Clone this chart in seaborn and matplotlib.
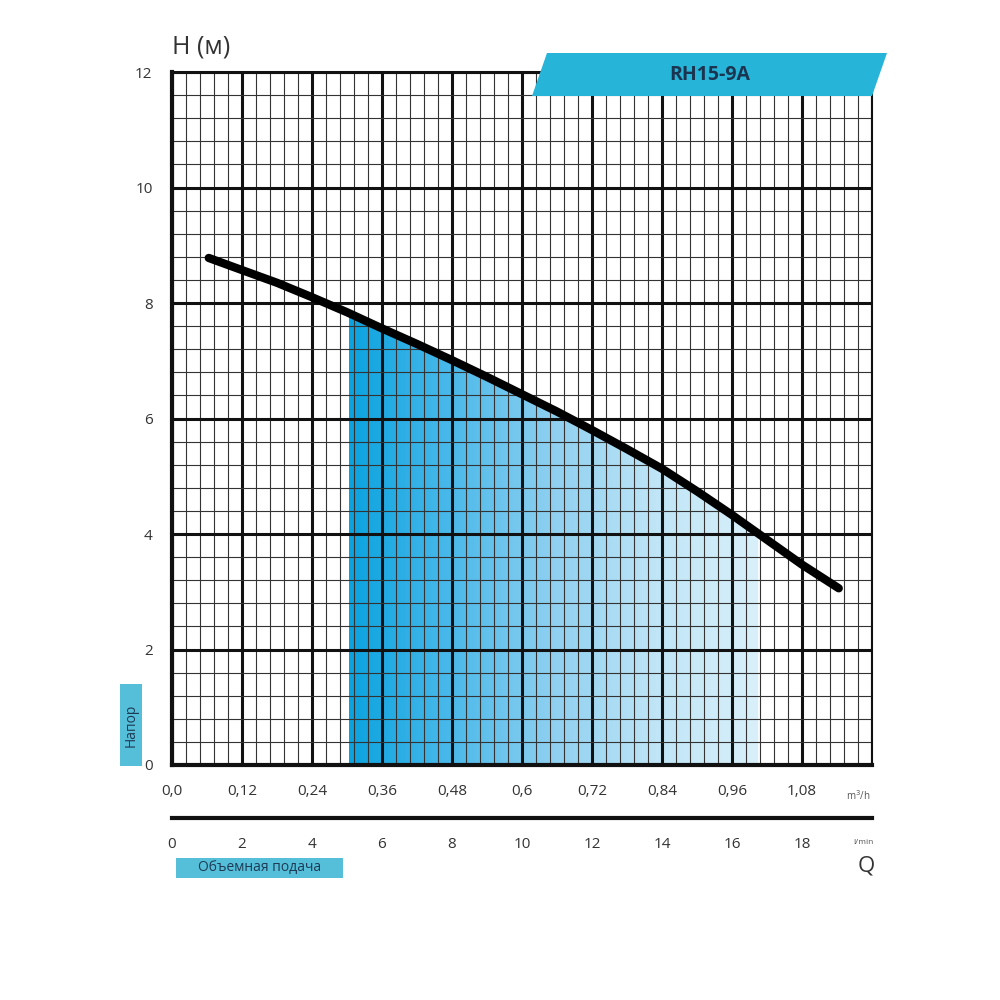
import numpy as np
import pandas as pd
import seaborn as sns
import matplotlib.pyplot as plt
from matplotlib.colors import LinearSegmentedColormap
from matplotlib.patches import Polygon, Rectangle

# ------------------ DATA ------------------
q_lmin = [1.05, 2, 3, 4, 5, 6, 7, 8, 9, 10, 11, 12, 13, 14, 15, 16, 17, 18, 19.05]
head_m = [8.78, 8.57, 8.35, 8.10, 7.84, 7.56, 7.29, 7.01, 6.72, 6.42, 6.12,
          5.80, 5.47, 5.13, 4.74, 4.33, 3.90, 3.47, 3.06]

work_from, work_to = 5.05, 16.75   # working range, l/min

lmin_ticks = [0, 2, 4, 6, 8, 10, 12, 14, 16, 18, 20]
lmin_labels = ['0', '2', '4', '6', '8', '10', '12', '14', '16', '18', '']
m3h_labels = ['0,0', '0,12', '0,24', '0,36', '0,48', '0,6', '0,72', '0,84', '0,96', '1,08', '']
h_ticks = [0, 2, 4, 6, 8, 10, 12]

model = 'RH15-9A'

df = pd.DataFrame({'Q': q_lmin, 'H': head_m})

# ------------------ STYLE ------------------
sns.set_style('white')
plt.rcParams['font.family'] = ['Open Sans', 'DejaVu Sans']

fig = plt.figure(figsize=(10, 10), dpi=100)
ax = fig.add_axes([0.172, 0.235, 0.700, 0.693])

# ------------------ GRADIENT FILL ------------------
in_range = df[(df['Q'] > work_from) & (df['Q'] < work_to)]
q_fill = [work_from] + list(in_range['Q']) + [work_to]
h_fill = np.interp(q_fill, df['Q'], df['H'])
poly = ax.fill_between(q_fill, 0, h_fill, facecolor='none', edgecolor='none')

cmap = LinearSegmentedColormap.from_list(
    'blues', ['#0aa3df', '#4bb9ea', '#8fd0f0', '#bfe5f6', '#d9f0fa'])
grad = np.linspace(0, 1, 256).reshape(1, -1)
img = ax.imshow(grad, cmap=cmap, aspect='auto',
                extent=(work_from, work_to, 0, 12), zorder=0.5)
img.set_clip_path(poly.get_paths()[0], transform=ax.transData)

# ------------------ CURVE ------------------
sns.lineplot(data=df, x='Q', y='H', color='black', linewidth=6,
             solid_capstyle='round', solid_joinstyle='round', ax=ax, zorder=3)

# ------------------ AXES / GRID ------------------
ax.set_xlim(0, 20)
ax.set_ylim(0, 12)
ax.set_xticks(lmin_ticks)
ax.set_xticklabels(m3h_labels)
ax.set_xticks(np.arange(0, 20.01, 0.4), minor=True)
ax.set_yticks(h_ticks)
ax.set_yticks(np.arange(0, 12.01, 0.4), minor=True)
ax.set_axisbelow('line')
ax.grid(which='major', color='#111111', linewidth=2.2)
ax.grid(which='minor', color='#333333', linewidth=0.8)
ax.set_xlabel('')
ax.set_ylabel('')

ax.tick_params(which='major', direction='out', length=9, width=2.2,
               color='#111111', labelsize=11, labelcolor='#333333', pad=5)
ax.tick_params(which='minor', length=0)
for side, lw in [('left', 3), ('bottom', 3), ('top', 2.2), ('right', 1.5)]:
    ax.spines[side].set_visible(True)
    ax.spines[side].set_linewidth(lw)
    ax.spines[side].set_color('#111111')

# ------------------ SECOND Q AXIS (l/min) ------------------
ax2 = fig.add_axes([0.172, 0.182, 0.700, 0.001])
ax2.set_xlim(0, 20)
ax2.set_xticks(lmin_ticks)
ax2.set_xticklabels(lmin_labels)
ax2.set_yticks([])
for side in ['left', 'right', 'top']:
    ax2.spines[side].set_visible(False)
ax2.spines['bottom'].set_linewidth(3)
ax2.spines['bottom'].set_color('#111111')
ax2.tick_params(axis='x', direction='out', length=9, width=2.2,
                color='#111111', labelsize=11, labelcolor='#333333', pad=5)
ax2.patch.set_alpha(0)

# ------------------ TEXT & BADGES ------------------
fig.text(0.172, 0.953, 'H (м)', fontsize=18, color='#333333', ha='left', va='center')
fig.text(0.866, 0.134, 'Q', fontsize=16, color='#333333', ha='center', va='center')
fig.text(0.858, 0.204, 'm$^3$/h', fontsize=7, color='#555555', ha='center', va='center')
fig.text(0.863, 0.157, 'l/min', fontsize=6, color='#555555', ha='center', va='center')

header = Polygon([(0.547, 0.947), (0.887, 0.947), (0.872, 0.904), (0.532, 0.904)],
                 closed=True, transform=fig.transFigure, facecolor='#27b4d9',
                 edgecolor='none', zorder=5)
fig.patches.append(header)
fig.text(0.71, 0.925, model, fontsize=14, fontweight='bold', color='#1b3550',
         ha='center', va='center', zorder=6)

box_h = Rectangle((0.120, 0.234), 0.022, 0.082, transform=fig.transFigure,
                  facecolor='#55bfd9', edgecolor='none')
fig.patches.append(box_h)
fig.text(0.131, 0.275, 'Напор', fontsize=10, color='#1e3a55', rotation=90,
         ha='center', va='center')

box_q = Rectangle((0.176, 0.122), 0.167, 0.020, transform=fig.transFigure,
                  facecolor='#55bfd9', edgecolor='none')
fig.patches.append(box_q)
fig.text(0.2595, 0.132, 'Объемная подача', fontsize=10, color='#1e3a55',
         ha='center', va='center')

plt.savefig('out.png', dpi=100)
plt.close()
